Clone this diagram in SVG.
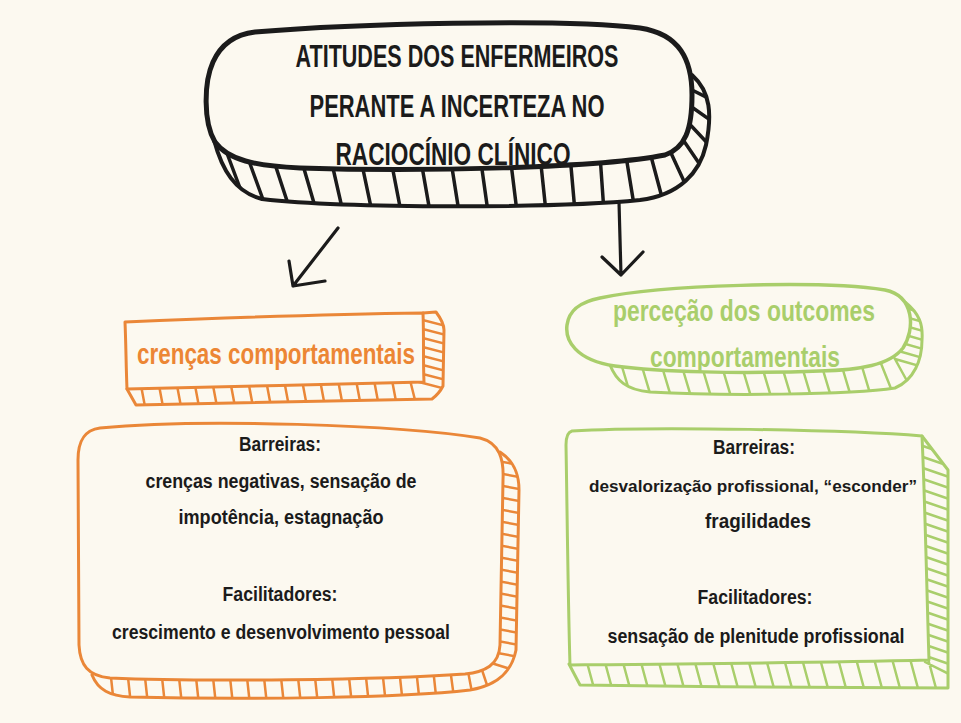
<svg xmlns="http://www.w3.org/2000/svg" width="961" height="723" viewBox="0 0 961 723">
<style>
.bg{fill:#FCF9F0}
.t{font-family:"Liberation Sans","DejaVu Sans",sans-serif;font-weight:700;text-anchor:middle}
.blk{fill:#1b1b1b}
.or{fill:#EC8634}
.gr{fill:#A9CE6B}
.sk{stroke:#1b1b1b;fill:none;stroke-linecap:round;stroke-linejoin:round}
.so{stroke:#EA8738;fill:none;stroke-linecap:round;stroke-linejoin:round}
.sg{stroke:#A9CE6B;fill:none;stroke-linecap:round;stroke-linejoin:round}
</style>
<defs>
<clipPath id="c1"><path d="M 214,140 C 222,170 235,192 262,199 C 350,209 560,208 640,200 C 680,195 700,172 706,145 C 712,115 711,92 692,75 L 400,60 L 214,100 Z"/></clipPath>
<clipPath id="c2"><path d="M 423,313 L 436,312 C 442,320 444,325 444,330 L 443,386 C 440,392 436,396 432,399 C 330,402 230,404 136,405 L 127,389 L 300,350 Z"/></clipPath>
<clipPath id="c3"><path d="M 610,365 C 616,380 626,390 650,392 C 720,396 850,395 895,388 C 914,380 922,360 922,340 C 923,325 920,314 905,302 L 750,330 Z"/></clipPath>
<clipPath id="c4"><path d="M 92,675 C 98,690 110,696 130,697 C 250,700 400,698 470,690 C 500,685 512,670 516,650 L 519,490 C 519,475 515,462 500,452 L 300,550 Z"/></clipPath>
<clipPath id="c5"><path d="M 569,664 L 580,685 C 700,687 850,688 948,688 L 948,470 L 922,436 L 750,550 Z"/></clipPath>
</defs>
<rect class="bg" x="0" y="0" width="961" height="723"/>

<g id="node-title">
<g clip-path="url(#c1)" class="sk" stroke-width="3.5">
<path d="M222,140 L240,188 M245,150 L265,205 M272,155 L290,210 M300,155 L316,210 M330,155 L343,212 M360,155 L372,212 M390,155 L401,212 M420,155 L430,212 M450,155 L459,212 M480,155 L488,212 M510,155 L517,212 M540,155 L546,212 M570,155 L575,212 M600,155 L604,212 M625,150 L634,205 M648,145 L664,205 M665,140 L688,190 M675,128 L705,172 M682,116 L712,148 M686,103 L716,124 M688,88 L716,102"/>
</g>
<path class="sk" stroke-width="4" d="M 214,140 C 222,170 235,192 262,199 C 350,209 560,208 640,200 C 680,195 700,172 706,145 C 712,115 711,92 692,75"/>
<path class="sk" style="fill:#FCF9F0" stroke-width="5" d="M 255,32 C 350,24 560,18 640,28 C 680,34 692,60 692,95 C 692,130 685,148 665,155 C 600,168 420,172 300,168 C 255,166 228,160 215,142 C 203,122 204,82 213,62 C 222,42 238,34 255,32 Z"/>
<text class="t blk" x="457" y="67" font-size="31" textLength="323" lengthAdjust="spacingAndGlyphs">ATITUDES DOS ENFERMEIROS</text>
<text class="t blk" x="457" y="117" font-size="31" textLength="295" lengthAdjust="spacingAndGlyphs">PERANTE A INCERTEZA NO</text>
<text class="t blk" x="453" y="165" font-size="31" textLength="235" lengthAdjust="spacingAndGlyphs">RACIOCÍNIO CLÍNICO</text>
</g>

<g id="node-crencas">
<g clip-path="url(#c2)" class="so" stroke-width="2.5">
<path d="M140,380 L146,412 M158,380 L164,412 M176,380 L182,412 M194,380 L200,412 M212,380 L218,412 M230,380 L236,412 M248,380 L254,412 M266,380 L272,412 M284,380 L290,412 M302,380 L308,412 M320,380 L326,412 M338,380 L344,412 M356,380 L362,412 M374,380 L380,412 M392,380 L398,412 M410,380 L418,412 M415,318 L450,327 M415,327 L450,336 M415,336 L450,345 M415,345 L450,354 M415,354 L450,363 M415,363 L450,372 M415,372 L450,381 M415,381 L450,390"/>
</g>
<path class="so" stroke-width="3" d="M 423,313 L 436,312 C 442,320 444,325 444,330 L 443,386 C 440,392 436,396 432,399 C 330,402 230,404 136,405 L 127,389"/>
<path class="so" style="fill:#FCF9F0" stroke-width="3" d="M 125,322 C 220,318 340,314 423,313 C 424,340 423,360 424,382 C 330,384 220,387 127,389 C 126,365 126,345 125,322 Z"/>
<text class="t or" x="276" y="364" font-size="29" textLength="278" lengthAdjust="spacingAndGlyphs">crenças comportamentais</text>
</g>

<g id="node-percecao">
<g clip-path="url(#c3)" class="sg" stroke-width="2.5">
<path d="M620,360 L632,400 M640,360 L652,400 M660,360 L672,400 M680,360 L692,400 M700,360 L712,400 M720,360 L732,400 M740,360 L752,400 M760,360 L772,400 M780,360 L792,400 M800,360 L812,400 M820,360 L832,400 M840,360 L852,400 M860,360 L872,400 M878,356 L894,396 M890,350 L912,390 M895,305 L930,315 M895,314 L930,324 M895,323 L930,333 M895,332 L930,342 M895,341 L930,351 M895,350 L930,360 M895,359 L930,369"/>
</g>
<path class="sg" stroke-width="3" d="M 610,365 C 616,380 626,390 650,392 C 720,396 850,395 895,388 C 914,380 922,360 922,340 C 923,325 920,314 905,302"/>
<path class="sg" style="fill:#FCF9F0" stroke-width="3.5" d="M 600,298 C 660,285 820,280 885,290 C 915,296 915,330 903,348 C 890,365 860,370 820,371 C 740,374 660,372 615,366 C 575,360 565,340 567,325 C 569,310 580,302 600,298 Z"/>
<text class="t gr" x="744" y="321" font-size="29" textLength="262" lengthAdjust="spacingAndGlyphs">perceção dos outcomes</text>
<text class="t gr" x="745" y="367" font-size="29" textLength="190" lengthAdjust="spacingAndGlyphs">comportamentais</text>
</g>

<g id="node-crencas-detalhe">
<g clip-path="url(#c4)" class="so" stroke-width="2.5">
<path d="M110,668 L114,705 M127,668 L131,705 M144,668 L148,705 M161,668 L165,705 M178,668 L182,705 M195,668 L199,705 M212,668 L216,705 M229,668 L233,705 M246,668 L250,705 M263,668 L267,705 M280,668 L284,705 M297,668 L301,705 M314,668 L318,705 M331,668 L335,705 M348,668 L352,705 M365,668 L369,705 M382,668 L386,705 M399,668 L403,705 M416,668 L420,705 M433,668 L437,705 M450,668 L455,705 M467,666 L474,703 M480,664 L492,700 M492,460 L525,466 M492,472 L525,478 M492,484 L525,490 M492,496 L525,502 M492,508 L525,514 M492,520 L525,526 M492,532 L525,538 M492,544 L525,550 M492,556 L525,562 M492,568 L525,574 M492,580 L525,586 M492,592 L525,598 M492,604 L525,610 M492,616 L525,622 M492,628 L525,634 M492,640 L525,646 M492,652 L525,658 M488,662 L520,672"/>
</g>
<path class="so" stroke-width="3" d="M 92,675 C 98,690 110,696 130,697 C 250,700 400,698 470,690 C 500,685 512,670 516,650 L 519,490 C 519,475 515,462 500,452"/>
<path class="so" style="fill:#FCF9F0" stroke-width="3" d="M 100,428 C 200,418 400,425 480,438 C 500,443 504,460 503,480 L 500,645 C 499,665 485,672 465,674 C 380,680 200,682 110,678 C 88,676 80,665 79,645 L 78,460 C 78,440 85,430 100,428 Z"/>
<text class="t blk" x="280" y="451" font-size="20" textLength="82" lengthAdjust="spacingAndGlyphs">Barreiras:</text>
<text class="t blk" x="281" y="488" font-size="20" textLength="271" lengthAdjust="spacingAndGlyphs">crenças negativas, sensação de</text>
<text class="t blk" x="281" y="524" font-size="20" textLength="205" lengthAdjust="spacingAndGlyphs">impotência, estagnação</text>
<text class="t blk" x="280" y="601" font-size="20" textLength="115" lengthAdjust="spacingAndGlyphs">Facilitadores:</text>
<text class="t blk" x="281" y="639" font-size="20" textLength="338" lengthAdjust="spacingAndGlyphs">crescimento e desenvolvimento pessoal</text>
</g>

<g id="node-percecao-detalhe">
<g clip-path="url(#c5)" class="sg" stroke-width="2.5">
<path d="M585,655 L595,692 M603,655 L613,692 M621,655 L631,692 M639,655 L649,692 M657,655 L667,692 M675,655 L685,692 M693,655 L703,692 M711,655 L721,692 M729,655 L739,692 M747,655 L757,692 M765,655 L775,692 M783,655 L793,692 M801,655 L811,692 M819,655 L829,692 M837,655 L847,692 M855,655 L865,692 M873,655 L883,692 M891,655 L901,692 M909,655 L919,692 M927,655 L937,692 M920,445 L955,457 M920,456 L955,468 M920,467 L955,479 M920,478 L955,490 M920,489 L955,501 M920,500 L955,512 M920,511 L955,523 M920,522 L955,534 M920,533 L955,545 M920,544 L955,556 M920,555 L955,567 M920,566 L955,578 M920,577 L955,589 M920,588 L955,600 M920,599 L955,611 M920,610 L955,622 M920,621 L955,633 M920,632 L955,644 M920,643 L955,655 M920,654 L955,666 M925,662 L955,677"/>
</g>
<path class="sg" stroke-width="3" d="M 569,664 L 580,685 C 700,687 850,688 948,688 L 948,470 L 922,436"/>
<path class="sg" style="fill:#FCF9F0" stroke-width="3" d="M 572,431 C 650,426 850,430 922,436 C 925,500 927,600 929,660 C 800,663 680,664 570,665 C 568,600 567,500 566,445 C 566,437 568,432 572,431 Z"/>
<text class="t blk" x="754" y="454" font-size="20" textLength="82" lengthAdjust="spacingAndGlyphs">Barreiras:</text>
<text class="t blk" x="753" y="492" font-size="17" textLength="328" lengthAdjust="spacingAndGlyphs">desvalorização profissional, “esconder”</text>
<text class="t blk" x="758" y="528" font-size="20" textLength="106" lengthAdjust="spacingAndGlyphs">fragilidades</text>
<text class="t blk" x="755" y="604" font-size="20" textLength="115" lengthAdjust="spacingAndGlyphs">Facilitadores:</text>
<text class="t blk" x="756" y="643" font-size="20" textLength="297" lengthAdjust="spacingAndGlyphs">sensação de plenitude profissional</text>
</g>

<g id="connectors" class="sk" stroke-width="3.2">
<path d="M338,228 L293,286 M289,261 L293,286 L325,281"/>
<path d="M619,202 L621,275 M602,257 L621,275 L643,252"/>
</g>
</svg>
